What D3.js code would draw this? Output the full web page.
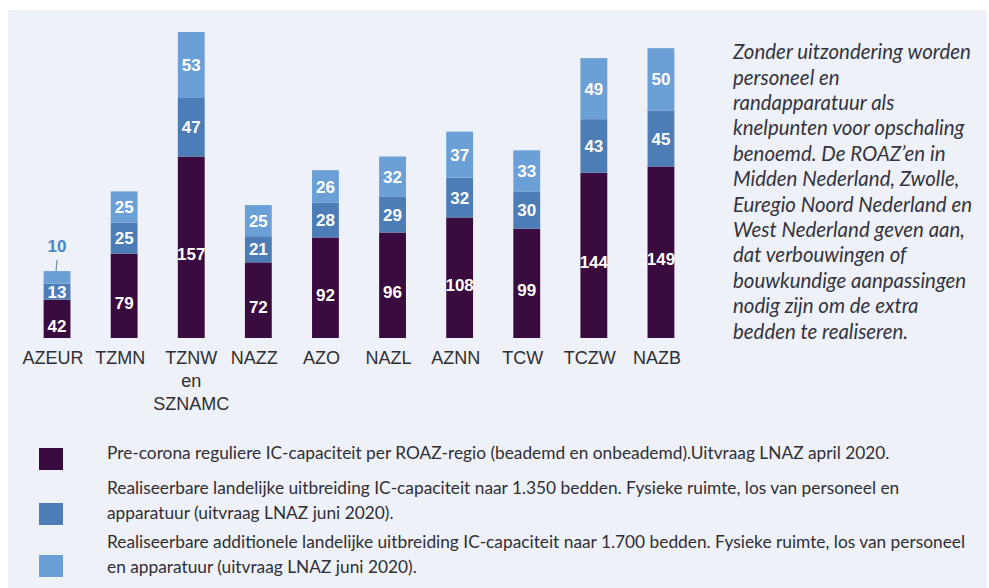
<!DOCTYPE html>
<html>
<head>
<meta charset="utf-8">
<script src="https://cdn.jsdelivr.net/npm/d3@7"></script>
<style>
  html, body { margin: 0; padding: 0; background: #ffffff; }
  svg { display: block; }
</style>
</head>
<body>
<div id="chart"></div>
<script>
// ROAZ regions and IC capacity per layer
const regions = ['AZEUR', 'TZMN', 'TZNW', 'NAZZ', 'AZO', 'NAZL', 'AZNN', 'TCW', 'TCZW', 'NAZB'];
const regionLabels = [['AZEUR'], ['TZMN'], ['TZNW', 'en', 'SZNAMC'], ['NAZZ'], ['AZO'], ['NAZL'], ['AZNN'], ['TCW'], ['TCZW'], ['NAZB']];
const preCorona = [42, 79, 157, 72, 92, 96, 108, 99, 144, 149];
const uitbreiding1350 = [13, 25, 47, 21, 28, 29, 32, 30, 43, 45];
const uitbreiding1700 = [10, 25, 53, 25, 26, 32, 37, 33, 49, 50];

const seriesKeys = ['pre', 'u1350', 'u1700'];
const seriesColors = ['#3a0b3f', '#4c7db6', '#6ba0d7'];
const legendLines = [
    ['Pre-corona reguliere IC-capaciteit per ROAZ-regio (beademd en onbeademd).Uitvraag LNAZ april 2020.'],
    ['Realiseerbare landelijke uitbreiding IC-capaciteit naar 1.350 bedden. Fysieke ruimte, los van personeel en',
     'apparatuur (uitvraag LNAZ juni 2020).'],
    ['Realiseerbare additionele landelijke uitbreiding IC-capaciteit naar 1.700 bedden. Fysieke ruimte, los van personeel',
     'en apparatuur (uitvraag LNAZ juni 2020).']
];
const noteLines = [
    'Zonder uitzondering worden', 'personeel en', 'randapparatuur als', 'knelpunten voor opschaling',
    'benoemd. De ROAZ\u2019en in', 'Midden Nederland, Zwolle,', 'Euregio Noord Nederland en',
    'West Nederland geven aan,', 'dat verbouwingen of', 'bouwkundige aanpassingen',
    'nodig zijn om de extra', 'bedden te realiseren.'
];

const Width = 989, Height = 588,
    Baseline = 338;

const table = regions.map((r, i) => ({
    region: r, pre: preCorona[i], u1350: uitbreiding1350[i], u1700: uitbreiding1700[i]
}));
const stacked = d3.stack().keys(seriesKeys)(table);

const svg = d3.select('#chart').append('svg')
    .attr('width', Width)
    .attr('height', Height);

// paper background
svg.append('rect')
    .attr('x', 8).attr('y', 10)
    .attr('width', Width - 10).attr('height', Height - 10)
    .attr('fill', '#eef1f8');

const x = d3.scaleBand()
    .domain(regions)
    .range([23.5, 694.5])
    .paddingInner(0.6)
    .paddingOuter(0.3);

// zero sits below the visible baseline: the bars are cut off at the labels
const y = d3.scaleLinear()
    .domain([0, 257])
    .range([352, 32]);

svg.append('clipPath').attr('id', 'plot-clip')
    .append('rect')
    .attr('x', 0).attr('y', 0)
    .attr('width', 700).attr('height', Baseline);

const layers = svg.append('g')
    .attr('clip-path', 'url(#plot-clip)')
    .selectAll('g')
    .data(stacked)
    .join('g')
    .attr('fill', (d, i) => seriesColors[i]);

layers.selectAll('rect')
    .data(d => d)
    .join('rect')
    .attr('x', d => x(d.data.region))
    .attr('width', x.bandwidth())
    .attr('y', d => y(d[1]))
    .attr('height', d => y(d[0]) - y(d[1]));

// value labels
const valueLabels = svg.append('g')
    .attr('font-family', 'Liberation Sans, Arial, sans-serif')
    .attr('font-weight', 'bold')
    .attr('font-size', 17)
    .attr('text-anchor', 'middle');

stacked.forEach((layer, li) => {
    layer.forEach(d => {
        const cx = x(d.data.region) + x.bandwidth() / 2;
        const h = y(d[0]) - y(d[1]);
        // too small to hold its label: put it above with a leader
        if (h < 16) {
            valueLabels.append('text')
                .attr('x', cx)
                .attr('y', y(d[1]) - 25)
                .attr('dy', '0.35em')
                .attr('fill', '#4a86c4')
                .text(d[1] - d[0]);
            valueLabels.append('line')
                .attr('x1', cx).attr('y1', y(d[1]) - 11)
                .attr('x2', cx - 1).attr('y2', y(d[1]))
                .attr('stroke', '#6f8aa6')
                .attr('stroke-width', 1.2);
        } else {
            valueLabels.append('text')
                .attr('x', cx)
                .attr('y', (y(d[0]) + y(d[1])) / 2)
                .attr('dy', '0.36em')
                .attr('fill', '#ffffff')
                .text(d[1] - d[0]);
        }
    });
});

// category labels
const catLabels = svg.append('g')
    .attr('font-family', 'Liberation Sans, Arial, sans-serif')
    .attr('font-size', 18)
    .attr('fill', '#2e2e33')
    .attr('text-anchor', 'middle');

regions.forEach((r, i) => {
    const t = catLabels.append('text')
        .attr('x', x(r) + x.bandwidth() / 2 - (regionLabels[i].length > 1 ? 0 : 4))
        .attr('y', 364);
    regionLabels[i].forEach((line, j) => {
        t.append('tspan')
            .attr('x', t.attr('x'))
            .attr('dy', j === 0 ? 0 : 23)
            .text(line);
    });
});

// fit a font size so a line spans the wanted width
function fitFont(sel, text, target) {
    const probe = sel.append('text').attr('font-size', 20).text(text);
    const w = probe.node().getComputedTextLength();
    probe.remove();
    return 20 * target / w;
}

// side note
const note = svg.append('g')
    .attr('font-family', 'Lato, "Open Sans", sans-serif')
    .attr('font-style', 'italic')
    .attr('fill', '#34343f');
const noteSize = fitFont(note, noteLines[0], 238);
note.attr('font-size', noteSize);
note.selectAll('text')
    .data(noteLines)
    .join('text')
    .attr('x', 733)
    .attr('y', (d, i) => 52 + i * 25.4)
    .attr('dy', '0.35em')
    .text(d => d);

// legend
const legend = svg.append('g')
    .attr('font-family', 'Lato, "Open Sans", sans-serif')
    .attr('fill', '#2f2f35');
const legendSize = fitFont(legend, legendLines[0][0], 783);
legend.attr('font-size', legendSize);

const swatchY = [448, 503, 555];
const textY = [[453], [488, 513], [542, 567]];

legendLines.forEach((lines, i) => {
    legend.append('rect')
        .attr('x', 39).attr('y', swatchY[i])
        .attr('width', 24).attr('height', 22)
        .attr('fill', seriesColors[i]);
    lines.forEach((line, j) => {
        legend.append('text')
            .attr('x', 107)
            .attr('y', textY[i][j])
            .attr('dy', '0.35em')
            .text(line);
    });
});
</script>
</body>
</html>
